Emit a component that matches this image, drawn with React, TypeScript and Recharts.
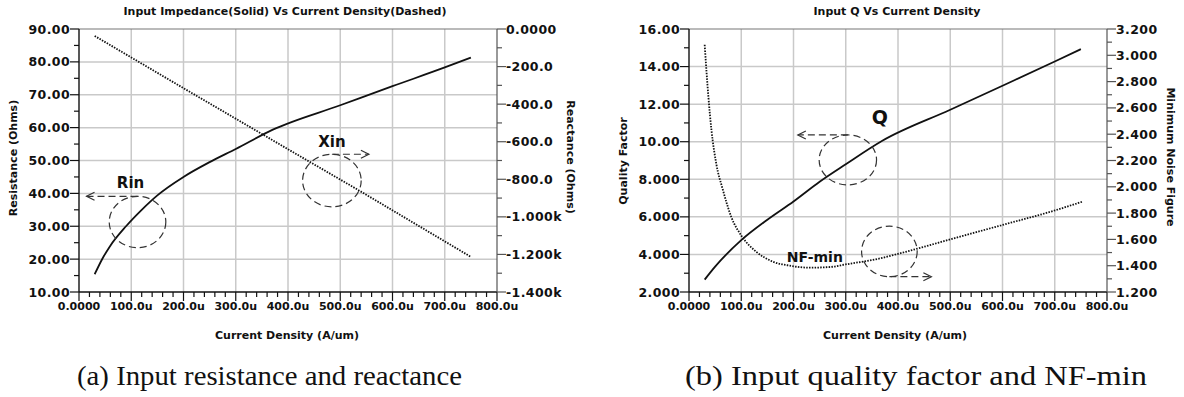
import React from "react";
import { LineChart, Line, XAxis, YAxis, ReferenceLine, ReferenceDot } from "recharts";

// x axis: current density, in uA/um
const X_MAJOR = [0, 100, 200, 300, 400, 500, 600, 700, 800];
const X_LABELS = ["0.0000", "100.0u", "200.0u", "300.0u", "400.0u", "500.0u", "600.0u", "700.0u", "800.0u"];

// (a) input resistance (solid, left axis) and reactance (dotted, right axis)
const RIN_X = [30, 45, 60, 90, 120, 150, 200, 250, 300, 370, 500, 600, 700, 750];
const RIN_OHMS = [15.4, 20.2, 24.1, 30.0, 35.0, 39.4, 45.0, 49.5, 53.5, 59.3, 66.8, 72.6, 78.3, 81.3];
const XIN_X = [30, 200, 400, 535, 750];
const XIN_OHMS = [-37, -315, -640, -858, -1213];

const RES_MAJOR = [10, 20, 30, 40, 50, 60, 70, 80, 90];
const RES_LABELS = ["10.00", "20.00", "30.00", "40.00", "50.00", "60.00", "70.00", "80.00", "90.00"];
const REACT_MAJOR = [-1400, -1200, -1000, -800, -600, -400, -200, 0];
const REACT_LABELS = ["-1.400k", "-1.200k", "-1.000k", "-800.0", "-600.0", "-400.0", "-200.0", "0.0000"];

// (b) input quality factor (solid, left axis) and NF-min (dotted, right axis)
const Q_X = [30, 50, 100, 150, 200, 250, 300, 370, 500, 600, 700, 750];
const Q_VAL = [2.66, 3.35, 4.76, 5.85, 6.82, 7.87, 8.8, 10.05, 11.7, 12.98, 14.27, 14.93];
const NF_X = [30, 37, 43, 52, 65, 81, 100, 129, 161, 193, 230, 270, 300, 365, 400, 500, 600, 700, 752];
const NF_VAL = [3.08, 2.69, 2.43, 2.18, 1.975, 1.77, 1.63, 1.505, 1.43, 1.4, 1.385, 1.39, 1.41, 1.455, 1.49, 1.6, 1.71, 1.82, 1.886];

const Q_MAJOR = [2, 4, 6, 8, 10, 12, 14, 16];
const Q_LABELS = ["2.000", "4.000", "6.000", "8.000", "10.00", "12.00", "14.00", "16.00"];
const NF_MAJOR = [1.2, 1.4, 1.6, 1.8, 2.0, 2.2, 2.4, 2.6, 2.8, 3.0, 3.2];
const NF_LABELS = ["1.200", "1.400", "1.600", "1.800", "2.000", "2.200", "2.400", "2.600", "2.800", "3.000", "3.200"];

const FONT = "'DejaVu Sans', sans-serif";
const INK = "#111";
const GRID = "#c9c9c9";
const DOTS = "1.5 1.3";

const toPoints = (xs: number[], ys: number[]) => xs.map((x, i) => ({ x, y: ys[i] }));

// tick positions incl. minor ticks between the labelled ones
function subdivide(major: number[], parts: number) {
  const out: number[] = [];
  major.forEach((m, i) => {
    out.push(m);
    if (i < major.length - 1) {
      const step = (major[i + 1] - m) / parts;
      for (let k = 1; k < parts; k++) out.push(m + step * k);
    }
  });
  return out;
}

function makeTick(side: "left" | "right" | "bottom", major: number[], labels: string[]) {
  return (props: any) => {
    const { x, y, payload } = props;
    const idx = major.findIndex((m) => Math.abs(m - payload.value) < 1e-6);
    const isMajor = idx >= 0;
    const len = isMajor ? 9 : 5;
    if (side === "bottom") {
      return (
        <g>
          <line x1={x} x2={x} y1={y} y2={y + len} stroke={INK} strokeWidth={1.2} />
          {isMajor && (
            <text x={x} y={y + 18} textAnchor="middle" fontFamily={FONT} fontWeight="bold" fontSize={11} fill={INK}>
              {labels[idx]}
            </text>
          )}
        </g>
      );
    }
    const dir = side === "left" ? -1 : 1;
    return (
      <g>
        <line x1={x} x2={x + dir * len} y1={y} y2={y} stroke={side === "left" ? INK : "#555"} strokeWidth={1.2} />
        {isMajor && (
          <text
            x={x + dir * 9}
            y={y}
            dy="0.36em"
            textAnchor={side === "left" ? "end" : "start"}
            fontFamily={FONT}
            fontWeight="bold"
            fontSize={12.5}
            letterSpacing={0.4}
            fill={INK}
          >
            {labels[idx]}
          </text>
        )}
      </g>
    );
  };
}

interface CalloutProps {
  cx?: number;
  cy?: number;
  rx: number;
  ry: number;
  arrowFrom: "top" | "bottom";
  arrowDir: -1 | 1;
  arrowLen: number;
  text: string;
  tdx: number;
  tdy: number;
  size: number;
}

function Callout({ cx = 0, cy = 0, rx, ry, arrowFrom, arrowDir, arrowLen, text, tdx, tdy, size }: CalloutProps) {
  const ay = arrowFrom === "top" ? cy - ry : cy + ry;
  const tipX = cx + arrowDir * arrowLen;
  return (
    <g>
      <ellipse cx={cx} cy={cy} rx={rx} ry={ry} fill="none" stroke="#333" strokeWidth={1.2} strokeDasharray="7 4" />
      <line x1={cx} y1={ay} x2={tipX} y2={ay} stroke="#333" strokeWidth={1.2} strokeDasharray="7 4" />
      <polyline
        points={`${tipX - arrowDir * 8},${ay - 4} ${tipX},${ay} ${tipX - arrowDir * 8},${ay + 4}`}
        fill="none"
        stroke="#333"
        strokeWidth={1.2}
      />
      <text x={cx + tdx} y={cy + tdy} textAnchor="middle" fontFamily={FONT} fontWeight="bold" fontSize={size} fill={INK}>
        {text}
      </text>
    </g>
  );
}

const W = 592;
const H = 330;

function ChartA() {
  const rin = toPoints(RIN_X, RIN_OHMS);
  const xin = toPoints(XIN_X, XIN_OHMS);
  return (
    <LineChart width={W} height={H} margin={{ top: 29, left: 19, right: 35, bottom: 8 }}>
      <XAxis
        type="number"
        dataKey="x"
        domain={[0, 800]}
        ticks={subdivide(X_MAJOR, 5)}
        interval={0}
        height={30}
        tickSize={0}
        tickMargin={0}
        tickLine={false}
        axisLine={{ stroke: INK, strokeWidth: 1.4 }}
        tick={makeTick("bottom", X_MAJOR, X_LABELS)}
      />
      <YAxis
        yAxisId="l"
        type="number"
        domain={[10, 90]}
        ticks={subdivide(RES_MAJOR, 2)}
        interval={0}
        width={60}
        tickSize={0}
        tickMargin={0}
        tickLine={false}
        axisLine={{ stroke: INK, strokeWidth: 1.4 }}
        tick={makeTick("left", RES_MAJOR, RES_LABELS)}
      />
      <YAxis
        yAxisId="r"
        orientation="right"
        type="number"
        domain={[-1400, 0]}
        ticks={subdivide(REACT_MAJOR, 2)}
        interval={0}
        width={60}
        tickSize={0}
        tickMargin={0}
        tickLine={false}
        axisLine={{ stroke: "#555", strokeWidth: 1.2 }}
        tick={makeTick("right", REACT_MAJOR, REACT_LABELS)}
      />
      {X_MAJOR.slice(1, -1).map((v) => (
        <ReferenceLine key={`vx${v}`} x={v} yAxisId="l" stroke={GRID} strokeWidth={1.5} />
      ))}
      {RES_MAJOR.slice(1, -1).map((v) => (
        <ReferenceLine key={`hy${v}`} y={v} yAxisId="l" stroke={GRID} strokeWidth={1.5} />
      ))}
      <ReferenceLine y={90} yAxisId="l" stroke="#777" strokeWidth={1.2} />
      <Line
        yAxisId="l"
        data={rin}
        dataKey="y"
        type="monotone"
        stroke={INK}
        strokeWidth={1.8}
        dot={false}
        isAnimationActive={false}
      />
      <Line
        yAxisId="r"
        data={xin}
        dataKey="y"
        type="linear"
        stroke={INK}
        strokeWidth={1.8}
        strokeDasharray={DOTS}
        dot={false}
        isAnimationActive={false}
      />
      <ReferenceDot
        yAxisId="l"
        x={112}
        y={31.3}
        r={0}
        shape={(p: any) => (
          <Callout cx={p.cx} cy={p.cy} rx={28.3} ry={25.7} arrowFrom="top" arrowDir={-1} arrowLen={51} text="Rin" tdx={-7} tdy={-34} size={15} />
        )}
      />
      <ReferenceDot
        yAxisId="l"
        x={484}
        y={43.9}
        r={0}
        shape={(p: any) => (
          <Callout cx={p.cx} cy={p.cy} rx={29.3} ry={26.3} arrowFrom="top" arrowDir={1} arrowLen={37} text="Xin" tdx={0} tdy={-33.6} size={15} />
        )}
      />
    </LineChart>
  );
}

function ChartB() {
  const q = toPoints(Q_X, Q_VAL);
  const nf = toPoints(NF_X, NF_VAL);
  return (
    <LineChart width={W} height={H} margin={{ top: 29, left: 37, right: 17, bottom: 8 }}>
      <XAxis
        type="number"
        dataKey="x"
        domain={[0, 800]}
        ticks={subdivide(X_MAJOR, 5)}
        interval={0}
        height={30}
        tickSize={0}
        tickMargin={0}
        tickLine={false}
        axisLine={{ stroke: INK, strokeWidth: 1.4 }}
        tick={makeTick("bottom", X_MAJOR, X_LABELS)}
      />
      <YAxis
        yAxisId="l"
        type="number"
        domain={[2, 16]}
        ticks={subdivide(Q_MAJOR, 2)}
        interval={0}
        width={60}
        tickSize={0}
        tickMargin={0}
        tickLine={false}
        axisLine={{ stroke: INK, strokeWidth: 1.4 }}
        tick={makeTick("left", Q_MAJOR, Q_LABELS)}
      />
      <YAxis
        yAxisId="r"
        orientation="right"
        type="number"
        domain={[1.2, 3.2]}
        ticks={subdivide(NF_MAJOR, 2)}
        interval={0}
        width={60}
        tickSize={0}
        tickMargin={0}
        tickLine={false}
        axisLine={{ stroke: "#555", strokeWidth: 1.2 }}
        tick={makeTick("right", NF_MAJOR, NF_LABELS)}
      />
      {X_MAJOR.slice(1, -1).map((v) => (
        <ReferenceLine key={`vx${v}`} x={v} yAxisId="l" stroke={GRID} strokeWidth={1.5} />
      ))}
      {Q_MAJOR.slice(1, -1).map((v) => (
        <ReferenceLine key={`hy${v}`} y={v} yAxisId="l" stroke={GRID} strokeWidth={1.5} />
      ))}
      <ReferenceLine y={16} yAxisId="l" stroke="#777" strokeWidth={1.2} />
      <Line
        yAxisId="l"
        data={q}
        dataKey="y"
        type="monotone"
        stroke={INK}
        strokeWidth={1.8}
        dot={false}
        isAnimationActive={false}
      />
      <Line
        yAxisId="r"
        data={nf}
        dataKey="y"
        type="monotone"
        stroke={INK}
        strokeWidth={1.8}
        strokeDasharray={DOTS}
        dot={false}
        isAnimationActive={false}
      />
      <ReferenceDot
        yAxisId="l"
        x={304}
        y={9.03}
        r={0}
        shape={(p: any) => (
          <Callout cx={p.cx} cy={p.cy} rx={28.7} ry={25} arrowFrom="top" arrowDir={-1} arrowLen={50} text="Q" tdx={32} tdy={-35.5} size={19} />
        )}
      />
      <ReferenceDot
        yAxisId="l"
        x={383.5}
        y={4.16}
        r={0}
        shape={(p: any) => (
          <Callout cx={p.cx} cy={p.cy} rx={27.8} ry={25.3} arrowFrom="bottom" arrowDir={1} arrowLen={42} text="NF-min" tdx={-74.5} tdy={10.4} size={14} />
        )}
      />
    </LineChart>
  );
}

export default function App() {
  const label = { fontFamily: FONT, fontWeight: "bold" as const, fontSize: 11, fill: INK };
  const caption = { fontFamily: "'Liberation Serif', serif", fontSize: 28, fill: INK, lengthAdjust: "spacingAndGlyphs" };
  return (
    <div style={{ position: "absolute", left: 0, top: 0, width: 1184, height: 397, background: "#fff", overflow: "hidden" }}>
      <div style={{ position: "absolute", left: 0, top: 0 }}>
        <ChartA />
      </div>
      <div style={{ position: "absolute", left: 592, top: 0 }}>
        <ChartB />
      </div>
      <svg width={1184} height={397} style={{ position: "absolute", left: 0, top: 0, pointerEvents: "none" }}>
        <text x={285} y={15} textAnchor="middle" {...label}>
          Input Impedance(Solid) Vs Current Density(Dashed)
        </text>
        <text x={897} y={15} textAnchor="middle" {...label}>
          Input Q Vs Current Density
        </text>
        <text x={287} y={339} textAnchor="middle" {...label}>
          Current Density (A/um)
        </text>
        <text x={895} y={339} textAnchor="middle" {...label}>
          Current Density (A/um)
        </text>
        <text x={13} y={158} textAnchor="middle" dominantBaseline="central" transform="rotate(-90 13 158)" {...label}>
          Resistance (Ohms)
        </text>
        <text x={570.5} y={157} textAnchor="middle" dominantBaseline="central" transform="rotate(90 570.5 157)" {...label}>
          Reactance (Ohms)
        </text>
        <text x={623} y={161} textAnchor="middle" dominantBaseline="central" transform="rotate(-90 623 161)" {...label}>
          Quality Factor
        </text>
        <text x={1170.5} y={157} textAnchor="middle" dominantBaseline="central" transform="rotate(90 1170.5 157)" {...label}>
          Minimum Noise Figure
        </text>
        <text x={269.5} y={385} textAnchor="middle" textLength={385} {...caption}>
          (a) Input resistance and reactance
        </text>
        <text x={916} y={385} textAnchor="middle" textLength={462} {...caption}>
          (b) Input quality factor and NF-min
        </text>
      </svg>
    </div>
  );
}
